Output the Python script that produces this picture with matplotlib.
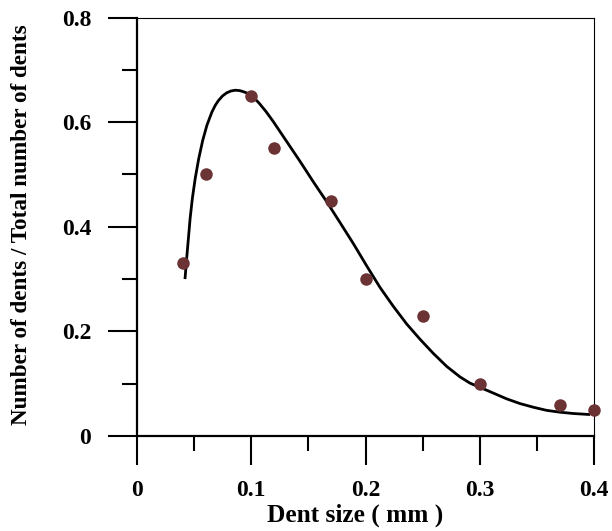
import matplotlib
matplotlib.use('Agg')
import matplotlib.pyplot as plt
import matplotlib.ticker as mticker

plt.rcParams['font.family'] = ['Liberation Serif', 'DejaVu Serif']
plt.rcParams['font.weight'] = 'bold'

# measured dent-size distribution
dent_size = [0.04, 0.06, 0.10, 0.12, 0.17, 0.20, 0.25, 0.30, 0.37, 0.40]
dent_frac = [0.33, 0.50, 0.65, 0.55, 0.45, 0.30, 0.23, 0.10, 0.06, 0.05]

# fitted distribution curve
fit_x = [0.0420, 0.0435, 0.0450, 0.0465, 0.0485, 0.0510, 0.0540, 0.0575,
         0.0612, 0.0655, 0.0685, 0.0712, 0.0748, 0.0785, 0.0822, 0.0860,
         0.0900, 0.0940, 0.0970, 0.1000, 0.1035, 0.1070, 0.1130, 0.1193,
         0.1310, 0.1427, 0.1543, 0.1660, 0.1777, 0.1893, 0.2011, 0.2127,
         0.2243, 0.2361, 0.2477, 0.2593, 0.2711, 0.2827, 0.2915, 0.3002,
         0.3119, 0.3236, 0.3352, 0.3469, 0.3586, 0.3702, 0.3819, 0.3965]
fit_y = [0.300, 0.340, 0.378, 0.416, 0.455, 0.493, 0.530, 0.565,
         0.594, 0.619, 0.632, 0.641, 0.650, 0.656, 0.6595, 0.661,
         0.6602, 0.6575, 0.6548, 0.651, 0.644, 0.636, 0.620, 0.601,
         0.563, 0.525, 0.486, 0.448, 0.408, 0.368, 0.325, 0.284,
         0.248, 0.214, 0.185, 0.158, 0.133, 0.113, 0.101, 0.093,
         0.082, 0.071, 0.062, 0.055, 0.049, 0.0455, 0.043, 0.041]

x_ticks = [0, 0.1, 0.2, 0.3, 0.4]
x_labels = ["0", "0.1", "0.2", "0.3", "0.4"]
y_ticks = [0, 0.2, 0.4, 0.6, 0.8]
y_labels = ["0", "0.2", "0.4", "0.6", "0.8"]

fig = plt.figure(figsize=(6.12, 5.31), dpi=100)
ax = fig.add_axes([137/612, 95/531, 457/612, 418.5/531])

ax.plot(fit_x, fit_y, color="black", lw=2.0, zorder=2,
        solid_capstyle="butt", solid_joinstyle="round")
ax.plot(dent_size, dent_frac, "o", color="#6B3333", ms=9, mec="none", zorder=3,
        clip_on=False)

ax.set_xlim(0, 0.4)
ax.set_ylim(0, 0.8)

ax.set_xticks(x_ticks)
ax.set_xticklabels(x_labels)
ax.set_yticks(y_ticks)
ax.set_yticklabels(y_labels)
ax.xaxis.set_minor_locator(mticker.MultipleLocator(0.05))
ax.yaxis.set_minor_locator(mticker.MultipleLocator(0.1))

ax.tick_params(which="major", direction="out", length=21, width=1.5,
               labelsize=17, color="black")
ax.tick_params(which="minor", direction="out", length=10.5, width=1.5)
ax.tick_params(axis="y", which="major", pad=12)
ax.tick_params(axis="x", which="major", pad=11)

for sp in ["left", "bottom"]:
    ax.spines[sp].set_linewidth(1.6)
for sp in ["top", "right"]:
    ax.spines[sp].set_linewidth(0.8)

fig.text(355/612, 1 - 515/531, "Dent size ( mm )", ha="center", va="center",
         fontsize=18.3, fontweight="bold")
fig.text(22/612, 1 - 225/531, "Number of dents / Total number of dents",
         ha="center", va="center", rotation=90, fontsize=16.7, fontweight="bold")

fig.savefig("out.png", dpi=100, facecolor="white")
